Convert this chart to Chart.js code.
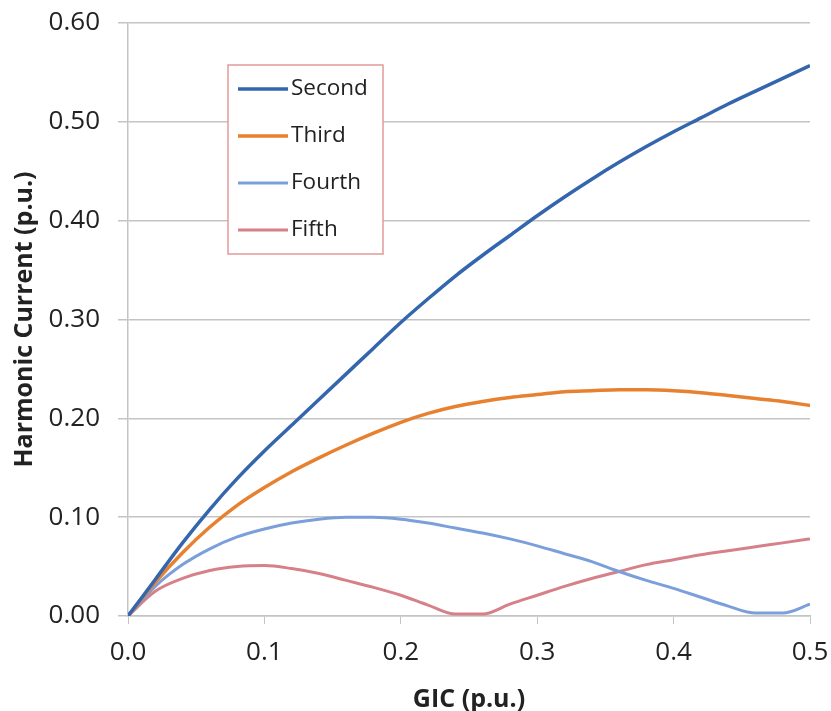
<!DOCTYPE html>
<html>
<head>
<meta charset="utf-8">
<script src="https://cdn.jsdelivr.net/npm/chart.js@4.4.1/dist/chart.umd.min.js"></script>
<style>
  html, body { margin: 0; padding: 0; background: #fff; }
  #wrap { width: 831px; height: 711px; }
</style>
</head>
<body>
<div id="wrap"><canvas id="harmonicChart" width="831" height="711"></canvas></div>
<script>
// GIC values (p.u.)
const gic = [0, 0.02, 0.04, 0.06, 0.08, 0.10, 0.12, 0.14, 0.16, 0.18, 0.20, 0.22, 0.24,
             0.26, 0.28, 0.30, 0.32, 0.34, 0.36, 0.38, 0.40, 0.42, 0.44, 0.46, 0.48, 0.50];

// Harmonic currents (p.u.)
const second = [0, 0.037, 0.074, 0.108, 0.139, 0.167, 0.193, 0.219, 0.245, 0.271, 0.297, 0.321,
                0.344, 0.365, 0.385, 0.405, 0.424, 0.442, 0.459, 0.475, 0.490, 0.504, 0.518, 0.531, 0.544, 0.557];
const third = [0, 0.034, 0.064, 0.090, 0.112, 0.130, 0.146, 0.160, 0.173, 0.185, 0.196, 0.205,
               0.212, 0.217, 0.221, 0.224, 0.227, 0.228, 0.229, 0.229, 0.228, 0.226, 0.223, 0.220, 0.217, 0.213];
const fourth = [0, 0.030, 0.052, 0.068, 0.080, 0.088, 0.094, 0.098, 0.100, 0.100, 0.098, 0.094,
                0.089, 0.084, 0.078, 0.071, 0.063, 0.055, 0.045, 0.036, 0.028, 0.019, 0.010, 0.003, 0.003, 0.012];
const fifth = [0, 0.025, 0.038, 0.046, 0.050, 0.051, 0.048, 0.043, 0.036, 0.029, 0.021, 0.011,
               0.002, 0.002, 0.012, 0.021, 0.030, 0.038, 0.045, 0.052, 0.057, 0.062, 0.066, 0.070, 0.074, 0.078];

const seriesNames = ['Second', 'Third', 'Fourth', 'Fifth'];
const xTicks = [0, 0.1, 0.2, 0.3, 0.4, 0.5];
const yTicks = [0, 0.1, 0.2, 0.3, 0.4, 0.5, 0.6];

const colors = ['#3466ae', '#e8812f', '#7b9fdb', '#d6818a'];
const widths = [3.5, 3.5, 3, 3];

const gridColor = '#c4c4c4';
const textColor = '#222222';
const fontFamily = '"Open Sans", "Noto Sans", sans-serif';

function toPoints(values) {
    return values.map((v, i) => ({ x: gic[i], y: v }));
}

// legend drawn inside the plot, like the original
const boxLegend = {
    id: 'boxLegend',
    afterDraw(chart) {
        const ctx = chart.ctx;
        const left = 228, top = 65, w = 155, h = 189;
        ctx.save();
        ctx.fillStyle = '#fff';
        ctx.fillRect(left, top, w, h);
        ctx.strokeStyle = '#e39a9a';
        ctx.lineWidth = 1.5;
        ctx.strokeRect(left, top, w, h);
        ctx.font = '22.5px ' + fontFamily;
        ctx.textBaseline = 'middle';
        chart.data.datasets.forEach((ds, i) => {
            const y = top + 24 + i * 47;
            ctx.strokeStyle = ds.borderColor;
            ctx.lineWidth = ds.borderWidth;
            ctx.beginPath();
            ctx.moveTo(left + 10, y);
            ctx.lineTo(left + 60, y);
            ctx.stroke();
            ctx.fillStyle = textColor;
            ctx.fillText(ds.label, left + 63, y);
        });
        ctx.restore();
    }
};

const ctx = document.getElementById('harmonicChart').getContext('2d');
const harmonicChart = new Chart(ctx, {
    type: 'line',
    data: {
        datasets: [second, third, fourth, fifth].map((vals, i) => ({
            label: seriesNames[i],
            data: toPoints(vals),
            borderColor: colors[i],
            borderWidth: widths[i],
            pointRadius: 0,
            cubicInterpolationMode: 'monotone',
            fill: false
        }))
    },
    options: {
        responsive: false,
        animation: false,
        layout: { padding: { top: 23, right: 21, left: 0, bottom: 0 } },
        plugins: {
            legend: { display: false },
            tooltip: { enabled: false }
        },
        scales: {
            x: {
                type: 'linear',
                min: 0,
                max: 0.5,
                afterBuildTicks: s => { s.ticks = xTicks.map(v => ({ value: v })); },
                afterFit: s => { s.height = 95; s.paddingLeft = 0; s.paddingRight = 0; },
                grid: { drawOnChartArea: false, color: gridColor, tickLength: 8, tickColor: gridColor },
                border: { color: gridColor, width: 1.5 },
                ticks: {
                    color: textColor,
                    padding: 13,
                    font: { family: fontFamily, size: 26 },
                    callback: v => v.toFixed(1)
                },
                title: {
                    display: true,
                    text: 'GIC (p.u.)',
                    color: textColor,
                    padding: { top: 2, bottom: -4 },
                    font: { family: fontFamily, size: 25, weight: 'bold' }
                }
            },
            y: {
                min: 0,
                max: 0.6,
                afterBuildTicks: s => { s.ticks = yTicks.map(v => ({ value: v })); },
                afterFit: s => { s.width = 128; s.paddingTop = 0; s.paddingBottom = 0; },
                grid: { color: gridColor, lineWidth: 1.5, tickLength: 10, tickColor: gridColor },
                border: { color: gridColor, width: 1.5 },
                ticks: {
                    color: textColor,
                    padding: 18,
                    font: { family: fontFamily, size: 26 },
                    callback: v => v.toFixed(2)
                },
                title: {
                    display: true,
                    text: 'Harmonic Current (p.u.)',
                    color: textColor,
                    padding: { top: 10, bottom: 4 },
                    font: { family: fontFamily, size: 25, weight: 'bold' }
                }
            }
        }
    },
    plugins: [boxLegend]
});
</script>
</body>
</html>
